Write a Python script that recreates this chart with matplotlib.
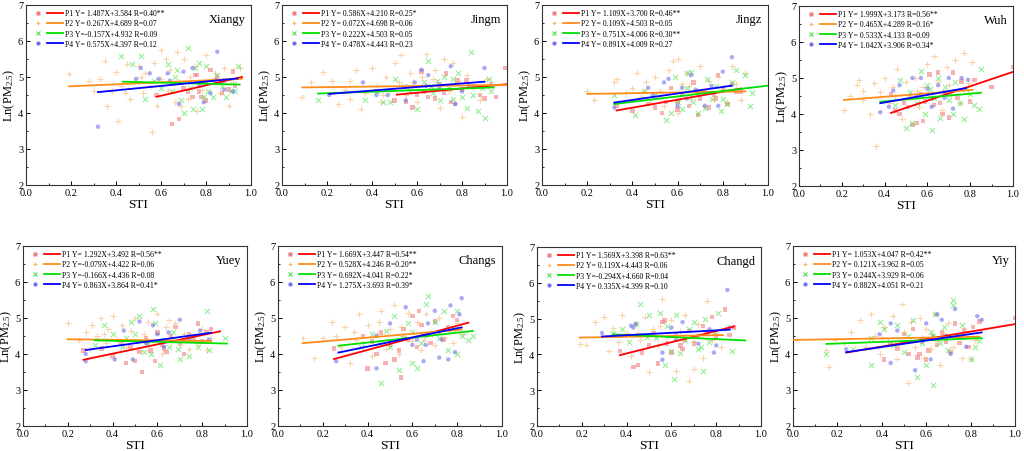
import matplotlib
matplotlib.use("Agg")
import matplotlib.pyplot as plt
from matplotlib.legend_handler import HandlerTuple
from matplotlib.lines import Line2D
from matplotlib.ticker import MultipleLocator

plt.rcParams['font.family'] = ['Liberation Serif', 'DejaVu Serif']
plt.rcParams['mathtext.fontset'] = 'custom'
plt.rcParams['mathtext.rm'] = 'Liberation Serif'
plt.rcParams['mathtext.default'] = 'regular'

# ---------------- data ----------------
panel_names = ["Xiangy", "Jingm", "Jingz", "Wuh", "Yuey", "Changs", "Changd", "Yiy"]

# legend labels per panel (P1..P4)
xiangy_labels = ["P1 Y= 1.487X+3.584 R=0.40**", "P2 Y= 0.267X+4.689 R=0.07",
                 "P3 Y=-0.157X+4.932 R=0.09", "P4 Y= 0.575X+4.397 R=0.12"]
jingm_labels = ["P1 Y= 0.586X+4.210 R=0.25*", "P2 Y= 0.072X+4.698 R=0.06",
                "P3 Y= 0.222X+4.503 R=0.05", "P4 Y= 0.478X+4.443 R=0.23"]
jingz_labels = ["P1 Y= 1.109X+3.700 R=0.46**", "P2 Y= 0.109X+4.503 R=0.05",
                "P3 Y= 0.751X+4.006 R=0.30**", "P4 Y= 0.891X+4.009 R=0.27"]
wuh_labels = ["P1 Y= 1.999X+3.173 R=0.56**", "P2 Y= 0.465X+4.289 R=0.16*",
              "P3 Y= 0.533X+4.133 R=0.09", "P4 Y= 1.042X+3.906 R=0.34*"]
yuey_labels = ["P1 Y= 1.292X+3.492 R=0.56**", "P2 Y=-0.079X+4.422 R=0.06",
               "P3 Y=-0.166X+4.436 R=0.08", "P4 Y= 0.863X+3.864 R=0.41*"]
changs_labels = ["P1 Y= 1.669X+3.447 R=0.54**", "P2 Y= 0.528X+4.246 R=0.20**",
                 "P3 Y= 0.692X+4.041 R=0.22*", "P4 Y= 1.275X+3.693 R=0.39*"]
changd_labels = ["P1 Y= 1.569X+3.398 R=0.63**", "P2 Y= 0.119X+4.443 R=0.06",
                 "P3 Y=-0.294X+4.660 R=0.04", "P4 Y= 0.335X+4.399 R=0.10"]
yiy_labels = ["P1 Y= 1.053X+4.047 R=0.42**", "P2 Y= 0.121X+3.962 R=0.05",
              "P3 Y= 0.244X+3.929 R=0.06", "P4 Y= 0.882X+4.051 R=0.21"]

# fitted line end points as drawn: (x_start, y_start, x_end, y_end) for P1..P4
xiangy_lines = [(0.58, 4.45, 0.96, 5.00), (0.19, 4.74, 0.96, 4.95), (0.43, 4.87, 0.95, 4.79), (0.32, 4.58, 0.94, 4.96)]
jingm_lines = [(0.51, 4.51, 1.00, 4.80), (0.09, 4.71, 1.00, 4.78), (0.16, 4.54, 0.94, 4.71), (0.21, 4.53, 0.90, 4.87)]
jingz_lines = [(0.33, 4.07, 0.88, 4.68), (0.20, 4.53, 0.90, 4.60), (0.32, 4.25, 1.00, 4.76), (0.32, 4.29, 0.84, 4.76)]
wuh_lines = [(0.43, 4.03, 1.00, 5.17), (0.21, 4.39, 0.81, 4.67), (0.38, 4.34, 0.85, 4.59), (0.38, 4.30, 0.78, 4.72)]
yuey_lines = [(0.27, 3.84, 0.88, 4.63), (0.20, 4.41, 0.84, 4.36), (0.32, 4.38, 0.91, 4.29), (0.28, 4.11, 0.84, 4.59)]
changs_lines = [(0.25, 3.86, 0.85, 4.87), (0.11, 4.30, 0.82, 4.68), (0.27, 4.23, 0.87, 4.64), (0.27, 4.04, 0.82, 4.74)]
changd_lines = [(0.37, 3.98, 0.88, 4.78), (0.19, 4.47, 0.83, 4.54), (0.34, 4.56, 0.93, 4.39), (0.29, 4.50, 0.86, 4.69)]
yiy_lines = [(0.24, 4.04, 1.00, 4.83), (0.00, 4.39, 0.84, 4.48), (0.15, 4.28, 0.85, 4.44), (0.24, 4.05, 0.85, 4.60)]

# scatter points (STI, Ln(PM2.5)) per panel and period
xiangy_p1 = [(0.58,4.5),(0.65,3.7),(0.68,3.83),(0.72,4.6),(0.75,5.05),(0.77,4.6),(0.78,4.45),(0.8,4.8),(0.82,5.2),(0.85,5.0),
             (0.87,4.55),(0.9,4.65),(0.92,5.15),(0.93,4.75),(0.7,4.7),(0.74,4.45),(0.8,4.35),(0.84,4.9),(0.76,5.05),(0.88,4.9)]
xiangy_p2 = [(0.19,5.08),(0.28,4.88),(0.3,4.6),(0.33,4.95),(0.35,5.45),(0.36,4.2),(0.38,4.6),(0.4,5.15),(0.41,3.78),(0.42,4.75),
             (0.45,5.35),(0.46,4.4),(0.48,4.9),(0.5,5.3),(0.52,4.55),(0.53,5.1),(0.55,4.75),(0.56,3.47),(0.57,5.4),(0.58,4.2),
             (0.6,4.95),(0.62,5.5),(0.63,4.6),(0.64,5.2),(0.66,4.3),(0.67,5.7),(0.68,4.85),(0.7,5.5),(0.72,4.4),(0.73,5.0),
             (0.75,5.3),(0.76,4.05),(0.78,4.65),(0.8,5.6),(0.82,4.9),(0.84,5.1),(0.86,4.55),(0.88,5.25),(0.9,4.2),(0.92,4.85),
             (0.95,5.25),(0.6,5.75),(0.44,4.55),(0.51,5.0),(0.69,4.2)]
xiangy_p3 = [(0.42,5.57),(0.47,5.37),(0.51,5.58),(0.53,4.38),(0.57,4.9),(0.6,4.7),(0.63,5.35),(0.65,4.6),(0.67,5.2),(0.69,4.35),
             (0.7,4.0),(0.72,5.8),(0.74,4.1),(0.75,5.25),(0.77,5.4),(0.78,4.1),(0.79,4.45),(0.8,5.3),(0.81,4.6),(0.83,4.45),
             (0.85,5.05),(0.87,4.75),(0.89,4.45),(0.91,4.6),(0.93,4.6),(0.94,5.3),(0.73,4.7),(0.66,5.0)]
xiangy_p4 = [(0.32,3.62),(0.49,4.95),(0.51,5.25),(0.55,5.1),(0.59,4.95),(0.63,5.1),(0.68,4.25),(0.7,5.15),(0.74,5.25),(0.77,4.75),
             (0.79,4.3),(0.82,4.55),(0.85,5.7),(0.88,4.65),(0.92,4.6),(0.64,4.9)]

jingm_p1 = [(0.5,4.35),(0.55,4.3),(0.58,4.15),(0.6,4.5),(0.63,4.6),(0.65,4.45),(0.68,4.4),(0.7,4.8),(0.72,4.55),(0.73,5.1),
            (0.75,4.3),(0.77,4.25),(0.8,4.65),(0.82,4.9),(0.85,4.75),(0.88,4.5),(0.9,4.4),(0.93,4.8),(0.95,4.45),(0.99,5.25),
            (0.62,5.15),(0.78,4.9)]
jingm_p2 = [(0.09,4.45),(0.13,4.85),(0.18,5.15),(0.22,4.9),(0.25,4.25),(0.28,4.65),(0.3,4.9),(0.33,5.2),(0.35,4.1),(0.37,4.55),
            (0.4,5.25),(0.42,4.75),(0.44,4.3),(0.46,5.0),(0.48,4.6),(0.5,5.4),(0.52,4.85),(0.53,5.6),(0.55,4.5),(0.57,5.1),
            (0.6,4.3),(0.62,5.0),(0.64,5.65),(0.66,4.7),(0.68,5.2),(0.7,4.15),(0.72,5.5),(0.74,4.6),(0.76,5.4),(0.78,4.9),
            (0.8,3.9),(0.82,5.05),(0.85,4.7),(0.88,4.35),(0.91,4.95),(0.3,4.4),(0.45,4.5),(0.58,4.85),(0.67,4.95)]
jingm_p3 = [(0.16,4.35),(0.37,4.35),(0.42,4.6),(0.45,4.3),(0.48,4.3),(0.5,4.95),(0.54,4.75),(0.57,4.6),(0.6,4.1),(0.63,4.85),
            (0.65,5.45),(0.67,4.55),(0.69,4.9),(0.7,4.35),(0.72,5.0),(0.74,4.7),(0.76,4.4),(0.78,5.1),(0.8,4.45),(0.82,4.15),
            (0.84,5.7),(0.85,4.5),(0.87,4.05),(0.89,4.7),(0.9,3.85),(0.92,4.95),(0.93,4.6),(0.76,4.95),(0.66,4.75)]
jingm_p4 = [(0.21,4.5),(0.36,4.85),(0.42,4.5),(0.47,4.5),(0.55,4.35),(0.59,4.85),(0.62,5.2),(0.64,4.75),(0.65,5.05),(0.7,4.7),
            (0.75,5.3),(0.77,4.25),(0.8,4.6),(0.83,4.75),(0.9,5.25)]

jingz_p1 = [(0.33,4.2),(0.4,4.05),(0.47,4.25),(0.5,4.15),(0.53,4.0),(0.55,4.3),(0.57,4.7),(0.6,4.1),(0.62,4.5),(0.65,4.2),
            (0.67,4.85),(0.69,3.95),(0.7,4.4),(0.72,4.6),(0.74,4.15),(0.76,4.5),(0.78,5.05),(0.8,4.65),(0.82,4.25),(0.84,4.8),
            (0.86,4.6),(0.88,4.6),(0.6,4.3),(0.77,4.4)]
jingz_p2 = [(0.2,4.6),(0.23,4.35),(0.32,4.85),(0.33,4.95),(0.37,4.55),(0.4,4.7),(0.42,5.1),(0.44,4.45),(0.46,4.85),(0.48,4.3),
            (0.5,5.0),(0.52,4.6),(0.54,4.2),(0.56,5.2),(0.58,5.45),(0.6,5.5),(0.6,4.0),(0.62,4.8),(0.64,5.1),(0.66,4.4),
            (0.68,4.6),(0.7,5.3),(0.72,4.2),(0.74,4.9),(0.76,4.4),(0.78,5.0),(0.8,4.7),(0.82,4.3),(0.84,5.3),(0.86,4.8),
            (0.88,4.35),(0.9,5.1),(0.45,4.6),(0.53,4.45),(0.65,4.75)]
jingz_p3 = [(0.32,4.5),(0.41,3.95),(0.45,4.6),(0.5,4.5),(0.55,3.8),(0.57,4.0),(0.59,5.0),(0.6,4.3),(0.62,4.1),(0.64,4.7),
            (0.66,5.15),(0.67,4.3),(0.69,4.0),(0.7,4.6),(0.72,4.15),(0.73,4.95),(0.75,4.4),(0.77,4.75),(0.79,4.05),(0.8,4.4),
            (0.82,4.25),(0.84,4.85),(0.86,5.2),(0.9,5.05),(0.92,4.2),(0.93,4.55),(0.64,5.1)]
jingz_p4 = [(0.32,4.15),(0.47,4.7),(0.49,4.5),(0.54,4.85),(0.56,4.95),(0.6,4.2),(0.62,4.7),(0.64,4.4),(0.66,5.05),(0.68,4.65),
            (0.72,4.2),(0.75,4.75),(0.78,4.2),(0.8,5.15),(0.84,5.55)]

wuh_p1 = [(0.43,4.55),(0.45,4.1),(0.47,4.0),(0.49,4.3),(0.51,4.2),(0.53,3.7),(0.55,3.75),(0.57,4.55),(0.59,4.35),(0.61,5.1),
          (0.63,4.25),(0.65,5.15),(0.67,4.0),(0.68,4.6),(0.7,3.9),(0.72,5.15),(0.74,4.45),(0.76,4.9),(0.8,4.35),(0.82,4.95),
          (0.9,4.75),(1.0,5.3),(0.58,3.8),(0.66,4.3)]
wuh_p2 = [(0.21,4.1),(0.24,4.5),(0.27,4.8),(0.28,4.95),(0.3,4.4),(0.33,4.0),(0.35,4.85),(0.36,3.1),(0.38,4.6),(0.4,5.0),
          (0.42,4.3),(0.44,4.75),(0.46,5.25),(0.48,3.85),(0.5,4.9),(0.52,4.5),(0.54,5.0),(0.56,4.2),(0.58,4.75),(0.6,5.4),
          (0.62,4.45),(0.63,5.6),(0.65,4.9),(0.67,4.1),(0.69,5.3),(0.71,4.55),(0.73,5.5),(0.75,4.3),(0.77,5.7),(0.79,4.85),
          (0.81,5.45),(0.45,4.5),(0.55,4.65),(0.7,4.8),(0.3,4.65)]
wuh_p3 = [(0.45,4.25),(0.47,4.95),(0.5,3.6),(0.52,4.6),(0.53,3.75),(0.55,4.3),(0.57,5.2),(0.59,4.0),(0.6,4.8),(0.62,3.55),
          (0.63,4.45),(0.65,5.0),(0.66,3.9),(0.68,4.75),(0.7,4.4),(0.72,4.0),(0.73,4.9),(0.75,4.3),(0.77,3.85),(0.78,4.7),
          (0.8,4.55),(0.82,4.25),(0.84,4.15),(0.85,5.25),(0.61,4.7)]
wuh_p4 = [(0.38,4.05),(0.42,4.2),(0.44,4.65),(0.47,4.8),(0.53,5.0),(0.55,4.5),(0.57,5.0),(0.6,4.7),(0.62,4.2),(0.65,4.8),
          (0.68,4.45),(0.7,5.0),(0.72,4.15),(0.76,5.0),(0.79,4.95)]

yuey_p1 = [(0.27,4.1),(0.35,4.15),(0.4,3.95),(0.44,4.3),(0.46,3.75),(0.48,4.2),(0.5,3.8),(0.52,4.05),(0.53,3.5),(0.55,4.45),
           (0.57,4.1),(0.59,3.8),(0.6,4.6),(0.62,4.25),(0.64,4.05),(0.66,4.5),(0.68,4.75),(0.7,4.3),(0.72,4.0),(0.74,4.55),
           (0.76,4.4),(0.78,4.85),(0.8,4.35),(0.82,4.6),(0.84,4.7),(0.63,4.15)]
yuey_p2 = [(0.2,4.85),(0.25,4.4),(0.28,4.6),(0.3,4.15),(0.31,4.8),(0.33,4.5),(0.35,5.0),(0.37,4.3),(0.38,4.7),(0.4,5.05),
           (0.42,4.4),(0.44,4.8),(0.46,4.2),(0.48,4.65),(0.5,5.0),(0.52,4.1),(0.54,4.55),(0.56,4.9),(0.58,4.35),(0.6,5.1),
           (0.62,4.0),(0.64,4.75),(0.66,4.4),(0.68,4.85),(0.7,4.25),(0.72,4.55),(0.74,4.15),(0.76,4.5),(0.78,4.3),(0.8,4.7),
           (0.82,4.1),(0.84,4.45),(0.36,4.55),(0.55,4.3),(0.65,4.95),(0.4,3.9)]
yuey_p3 = [(0.32,4.25),(0.36,4.8),(0.4,4.55),(0.44,4.2),(0.46,4.45),(0.48,4.9),(0.5,4.55),(0.52,5.05),(0.54,4.05),(0.56,4.3),
           (0.58,5.25),(0.59,4.85),(0.61,3.7),(0.63,4.4),(0.65,4.2),(0.67,4.6),(0.69,4.15),(0.7,3.85),(0.72,4.4),(0.74,3.95),
           (0.76,4.5),(0.78,4.2),(0.82,5.2),(0.83,4.1),(0.9,4.45),(0.57,4.0)]
yuey_p4 = [(0.28,3.8),(0.28,4.0),(0.41,3.85),(0.45,4.65),(0.49,3.85),(0.52,4.9),(0.55,4.3),(0.58,4.8),(0.6,4.55),(0.63,4.2),
           (0.65,4.6),(0.7,4.95),(0.74,4.4),(0.79,4.65),(0.83,4.4)]

changs_p1 = [(0.25,4.15),(0.38,4.5),(0.4,3.6),(0.42,4.35),(0.44,4.0),(0.46,4.6),(0.48,3.75),(0.5,4.25),(0.52,3.85),(0.54,4.1),
             (0.55,3.35),(0.56,4.7),(0.58,4.4),(0.6,5.05),(0.62,4.2),(0.64,4.8),(0.66,4.5),(0.68,4.3),(0.7,4.9),(0.72,4.6),
             (0.74,4.4),(0.76,4.75),(0.78,5.05),(0.8,4.95),(0.63,5.2)]
changs_p2 = [(0.11,4.45),(0.16,3.9),(0.2,4.45),(0.24,4.9),(0.26,4.5),(0.28,4.2),(0.3,4.75),(0.32,3.75),(0.34,4.6),(0.36,5.1),
             (0.38,4.3),(0.4,4.8),(0.42,3.95),(0.44,4.55),(0.46,5.2),(0.48,4.15),(0.5,4.7),(0.52,5.35),(0.54,4.0),(0.56,4.5),
             (0.58,5.15),(0.6,4.35),(0.62,4.9),(0.64,4.1),(0.66,5.1),(0.68,4.6),(0.7,4.25),(0.72,5.0),(0.74,4.45),(0.76,4.7),
             (0.78,4.3),(0.8,4.85),(0.82,4.55),(0.35,4.4),(0.45,4.9),(0.55,4.75),(0.65,4.4)]
changs_p3 = [(0.37,4.2),(0.42,4.55),(0.45,4.3),(0.46,3.2),(0.48,4.65),(0.5,4.2),(0.52,5.05),(0.54,3.55),(0.56,4.45),(0.58,4.85),
             (0.6,3.75),(0.62,3.6),(0.64,4.3),(0.66,5.4),(0.67,5.6),(0.68,4.55),(0.7,4.9),(0.72,4.45),(0.74,5.2),(0.76,4.1),
             (0.78,4.7),(0.8,4.0),(0.82,4.5),(0.85,4.4),(0.87,4.5),(0.8,5.2),(0.6,4.6)]
changs_p4 = [(0.26,3.8),(0.44,3.6),(0.44,4.5),(0.5,4.85),(0.57,5.3),(0.6,4.25),(0.62,4.4),(0.65,3.8),(0.67,4.85),(0.7,5.2),
             (0.72,3.9),(0.73,4.4),(0.76,3.85),(0.77,5.35),(0.79,4.05),(0.81,5.1),(0.82,5.55),(0.66,4.25)]

changd_p1 = [(0.37,4.1),(0.43,3.65),(0.45,3.7),(0.47,4.05),(0.5,4.25),(0.52,4.6),(0.54,3.75),(0.56,4.9),(0.58,4.3),(0.6,4.05),
             (0.62,4.55),(0.64,4.25),(0.66,4.4),(0.68,4.65),(0.7,4.3),(0.72,4.5),(0.74,4.8),(0.76,4.6),(0.78,5.05),(0.8,4.45),
             (0.84,5.25),(0.86,4.55),(0.88,4.75),(0.57,4.95),(0.65,4.15)]
changd_p2 = [(0.19,4.3),(0.22,4.25),(0.26,4.9),(0.3,5.05),(0.32,4.1),(0.34,4.75),(0.36,4.35),(0.38,5.1),(0.4,4.6),(0.42,3.95),
             (0.44,4.85),(0.46,4.4),(0.48,5.05),(0.5,3.5),(0.52,4.7),(0.54,4.25),(0.56,5.55),(0.58,4.5),(0.6,4.95),(0.62,3.55),
             (0.64,4.65),(0.66,5.1),(0.68,3.25),(0.7,4.35),(0.72,4.85),(0.74,3.9),(0.76,5.5),(0.78,4.4),(0.8,4.6),(0.82,4.2),
             (0.84,4.7),(0.45,4.6),(0.55,4.8),(0.65,4.4),(0.7,3.6)]
changd_p3 = [(0.34,4.6),(0.38,4.7),(0.41,4.35),(0.44,4.85),(0.46,5.4),(0.49,4.5),(0.5,5.1),(0.53,4.45),(0.55,5.15),(0.57,3.7),
             (0.58,4.8),(0.6,4.1),(0.61,3.3),(0.62,5.1),(0.64,4.05),(0.66,4.4),(0.68,4.7),(0.7,4.9),(0.72,4.15),(0.74,3.55),
             (0.75,5.0),(0.77,4.35),(0.79,4.6),(0.81,5.15),(0.87,4.1),(0.73,4.2)]
changd_p4 = [(0.29,4.6),(0.42,4.8),(0.43,4.75),(0.44,4.85),(0.56,3.85),(0.56,4.05),(0.6,4.75),(0.62,4.4),(0.65,4.9),(0.72,4.3),
             (0.77,4.7),(0.79,4.05),(0.8,4.25),(0.85,5.8),(0.86,4.75)]

yiy_p1 = [(0.41,3.85),(0.44,4.3),(0.47,4.15),(0.5,4.55),(0.52,4.0),(0.54,4.7),(0.56,3.9),(0.58,4.35),(0.6,3.85),(0.61,4.1),
          (0.63,4.5),(0.65,4.25),(0.67,4.6),(0.69,4.35),(0.71,4.05),(0.73,4.85),(0.75,4.3),(0.77,4.65),(0.79,4.2),(0.81,4.75),
          (0.84,4.9),(1.0,5.0),(0.57,4.0),(0.66,4.45)]
yiy_p2 = [(0.15,4.1),(0.16,3.65),(0.19,4.4),(0.23,4.3),(0.26,4.6),(0.3,4.95),(0.33,4.2),(0.35,5.1),(0.37,4.5),(0.39,4.0),
          (0.41,4.75),(0.43,4.35),(0.45,5.05),(0.47,3.85),(0.49,5.4),(0.5,4.6),(0.52,3.2),(0.53,4.9),(0.55,4.2),(0.57,5.0),
          (0.59,3.9),(0.6,4.7),(0.62,4.15),(0.64,5.1),(0.66,3.7),(0.68,4.55),(0.7,4.85),(0.72,4.2),(0.74,4.5),(0.76,3.9),
          (0.78,4.65),(0.8,3.85),(0.82,4.4),(0.4,4.45),(0.58,4.45),(0.65,4.35)]
yiy_p3 = [(0.15,4.0),(0.27,4.15),(0.35,3.7),(0.35,4.45),(0.39,4.9),(0.41,4.7),(0.45,4.25),(0.47,4.8),(0.5,4.05),(0.52,4.5),
          (0.54,4.95),(0.56,3.35),(0.58,4.3),(0.6,3.7),(0.62,4.6),(0.63,3.15),(0.64,5.1),(0.66,4.3),(0.68,4.75),(0.7,4.1),
          (0.72,5.5),(0.72,5.35),(0.74,4.5),(0.76,4.8),(0.8,3.85),(0.82,4.2),(0.84,4.35),(0.63,4.5)]
yiy_p4 = [(0.24,4.13),(0.39,4.55),(0.44,4.85),(0.44,3.75),(0.47,4.65),(0.55,3.55),(0.58,4.4),(0.6,4.85),(0.62,3.85),(0.65,5.1),
          (0.67,4.95),(0.69,4.5),(0.71,4.0),(0.73,5.25),(0.78,4.2),(0.83,5.05),(0.85,4.95)]

x_ticks = [0.0, 0.2, 0.4, 0.6, 0.8, 1.0]
y_ticks = [2, 3, 4, 5, 6, 7]

# ---------------- styling ----------------
line_colors = ["#ff0000", "#ff8c1a", "#00e000", "#0000ff"]
marker_colors = ["#f08080", "#f8b870", "#50e050", "#7070f0"]
marker_styles = ["s", "+", "x", "o"]
marker_sizes = [10, 14, 14, 10]

panels = [
    (xiangy_p1, xiangy_p2, xiangy_p3, xiangy_p4, xiangy_lines, xiangy_labels),
    (jingm_p1, jingm_p2, jingm_p3, jingm_p4, jingm_lines, jingm_labels),
    (jingz_p1, jingz_p2, jingz_p3, jingz_p4, jingz_lines, jingz_labels),
    (wuh_p1, wuh_p2, wuh_p3, wuh_p4, wuh_lines, wuh_labels),
    (yuey_p1, yuey_p2, yuey_p3, yuey_p4, yuey_lines, yuey_labels),
    (changs_p1, changs_p2, changs_p3, changs_p4, changs_lines, changs_labels),
    (changd_p1, changd_p2, changd_p3, changd_p4, changd_lines, changd_labels),
    (yiy_p1, yiy_p2, yiy_p3, yiy_p4, yiy_lines, yiy_labels),
]

W, H = 1024, 452
# axes boxes in pixels (left, right, top, bottom)
boxes = [(26, 251, 6, 186), (282, 507, 6, 186), (542, 768, 6, 186), (799, 1013, 7, 187),
         (23, 247, 247, 427), (278, 502, 247, 427), (537, 761, 248, 427), (793, 1015, 247, 427)]

fig = plt.figure(figsize=(W / 100, H / 100), dpi=100)

for i, (name, pdata, box) in enumerate(zip(panel_names, panels, boxes)):
    l, r, t, b = box
    ax = fig.add_axes([l / W, (H - b) / H, (r - l) / W, (b - t) / H])
    series = pdata[:4]
    lines = pdata[4]
    labels = pdata[5]
    handles = []
    for k in range(4):
        xs = [p[0] for p in series[k]]
        ys = [p[1] for p in series[k]]
        if marker_styles[k] in ("+", "x"):
            ax.scatter(xs, ys, marker=marker_styles[k], s=marker_sizes[k], color=marker_colors[k],
                       linewidths=0.8, alpha=0.6, zorder=2)
        else:
            ax.scatter(xs, ys, marker=marker_styles[k], s=marker_sizes[k], color=marker_colors[k],
                       edgecolors='none', alpha=0.6, zorder=2)
    for k in range(4):
        x0, y0, x1, y1 = lines[k]
        ax.plot([x0, x1], [y0, y1], color=line_colors[k], lw=1.3, zorder=3)
    for k in range(4):
        mk = Line2D([], [], marker=marker_styles[k], linestyle='none', color=marker_colors[k],
                    markersize=3 if marker_styles[k] in ("s", "o") else 3.5, markeredgewidth=0.8,
                    markeredgecolor=marker_colors[k] if marker_styles[k] in ("+", "x") else 'none')
        ln = Line2D([], [], color=line_colors[k], lw=1.3)
        handles.append((mk, ln))
    ax.legend(handles, labels, handler_map={tuple: HandlerTuple(ndivide=None, pad=0.1)},
              loc='upper left', frameon=False, fontsize=5.6, handlelength=4.2,
              handletextpad=0.25, labelspacing=0.28, borderaxespad=0.25, borderpad=0.3)

    ax.text(0.975, 0.955, name, transform=ax.transAxes, ha='right', va='top', fontsize=9)

    ax.set_xlim(0, 1.0)
    ax.set_ylim(2, 7)
    ax.set_xticks(x_ticks)
    ax.set_xticklabels([f"{v:.1f}" for v in x_ticks])
    ax.set_yticks(y_ticks)
    ax.set_yticklabels([str(v) for v in y_ticks])
    ax.xaxis.set_minor_locator(MultipleLocator(0.1))
    ax.yaxis.set_minor_locator(MultipleLocator(0.5))
    ax.tick_params(which='both', direction='in', top=False, right=False, labelsize=7.5, pad=2)
    ax.tick_params(which='major', length=3, width=0.7)
    ax.tick_params(which='minor', length=1.5, width=0.6)
    for sp in ax.spines.values():
        sp.set_linewidth(0.8)
        sp.set_color('#333333')
    ax.set_xlabel("STI", fontsize=9.5, labelpad=1)
    ax.set_ylabel("Ln(PM$_{2.5}$)", fontsize=9, labelpad=0.5)

fig.savefig("out.png", dpi=100)
